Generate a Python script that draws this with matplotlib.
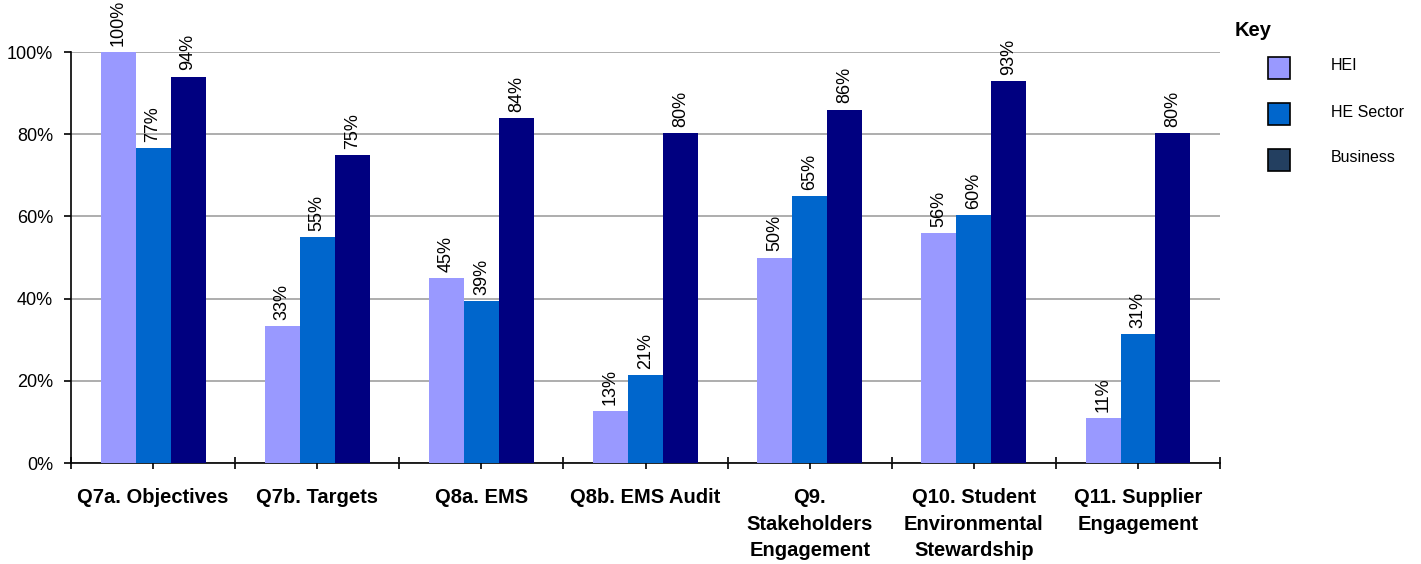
import matplotlib
matplotlib.use("Agg")
import matplotlib.pyplot as plt
import matplotlib.ticker as ticker
from matplotlib.patches import Rectangle
import numpy as np

plt.rcParams['font.family'] = ['Liberation Sans', 'DejaVu Sans']

categories = ["Q7a. Objectives", "Q7b. Targets", "Q8a. EMS", "Q8b. EMS Audit",
              "Q9.\nStakeholders\nEngagement", "Q10. Student\nEnvironmental\nStewardship",
              "Q11. Supplier\nEngagement"]
hei = [100, 33.4, 45, 12.6, 50, 56, 11]
he_sector = [76.6, 55, 39.4, 21.4, 65, 60.4, 31.4]
business = [94, 75, 84, 80.3, 86, 93, 80.3]
series_names = ["HEI", "HE Sector", "Business"]
colors = ["#9999FF", "#0066CC", "#000080"]
key_colors = ["#9999FF", "#0066CC", "#233F60"]

fig = plt.figure(figsize=(14.21, 5.64), dpi=100)
ax = fig.add_axes([0.05, 0.179, 0.8086, 0.7288])

x = np.arange(len(categories))
w = 0.213
for i, vals in enumerate([hei, he_sector, business]):
    pos = x + (i - 1) * w
    ax.bar(pos, vals, width=w, color=colors[i], zorder=3)
    for p, v in zip(pos, vals):
        ax.text(p, v + 1.5, f"{v:.0f}%", rotation=90, ha='center', va='bottom',
                fontsize=13, clip_on=False)

ax.set_xlim(-0.5, len(categories) - 0.5)
ax.set_ylim(0, 100)
ax.yaxis.set_major_locator(ticker.MultipleLocator(20))
ax.yaxis.set_major_formatter(ticker.FuncFormatter(lambda v, p: f"{v:.0f}%"))
ax.grid(axis='y', color='#A0A0A0', linewidth=1.2, zorder=0)

ax.set_xticks(x)
ax.set_xticklabels(categories, fontweight='bold', fontsize=14.5, linespacing=1.5)
ax.set_xticks(np.arange(-0.5, len(categories)), minor=True)
ax.tick_params(axis='x', which='both', direction='inout', length=8, width=1.2, pad=14)
ax.tick_params(axis='y', direction='out', length=5, width=1.2, labelsize=13, pad=8)

for s in ['top', 'right']:
    ax.spines[s].set_visible(False)
ax.spines['left'].set_linewidth(1.2)
ax.spines['bottom'].set_linewidth(1.2)

# key
fig.text(1235 / 1421, 1 - 30 / 564, "Key", fontweight='bold', fontsize=14.5, va='center')
for i, name in enumerate(series_names):
    yc = 1 - (68 + 46 * i) / 564
    fig.patches.append(Rectangle((1268 / 1421, yc - 11 / 564), 22 / 1421, 22 / 564,
                                 transform=fig.transFigure, facecolor=key_colors[i],
                                 edgecolor='black', linewidth=1.2))
    fig.text(1331 / 1421, yc + 2 / 564, name, fontsize=11.5, va='center')

fig.savefig("out.png", dpi=100)
